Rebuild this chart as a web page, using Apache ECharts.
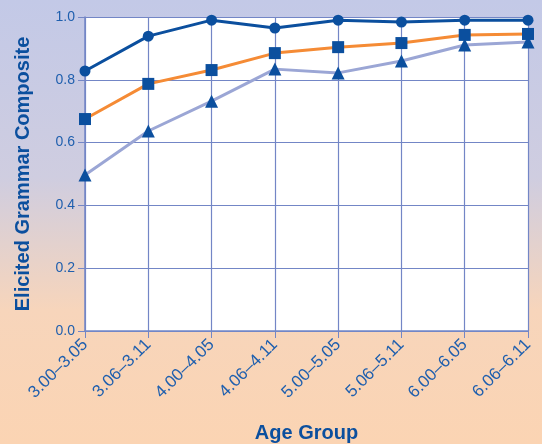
<!DOCTYPE html>
<html><head><meta charset="utf-8">
<script src="https://cdn.jsdelivr.net/npm/echarts@6/dist/echarts.min.js"></script>
<style>html,body{margin:0;padding:0;}#c{width:542px;height:444px;}</style>
</head><body><div id="c"></div>
<script>
var categories = ['3.00\u20133.05','3.06\u20133.11','4.00\u20134.05','4.06\u20134.11','5.00\u20135.05','5.06\u20135.11','6.00\u20136.05','6.06\u20136.11'];
var seriesCircle = [0.828, 0.939, 0.990, 0.965, 0.990, 0.984, 0.990, 0.990];
var seriesSquare = [0.675, 0.787, 0.831, 0.885, 0.904, 0.917, 0.943, 0.946];
var seriesTriangle = [0.497, 0.637, 0.732, 0.834, 0.822, 0.860, 0.911, 0.920];
var yTicks = [0, 0.2, 0.4, 0.6, 0.8, 1.0];

var chart = echarts.init(document.getElementById('c'));
var markerColor = '#0b4f9e';
var labelColor = '#1f5fae';
var gridColor = '#7386c6';
function mk(data, color, symbol, size, z) {
  return {type:'line', data:data, symbol:symbol, symbolSize:size, z:z,
    lineStyle:{color:color, width:3}, itemStyle:{color:markerColor}, showSymbol:true};
}
chart.setOption({
  animation:false,
  backgroundColor:{type:'linear', x:0, y:0, x2:0, y2:1, colorStops:[
    {offset:0, color:'#c3c9e7'}, {offset:0.4, color:'#cfcde0'}, {offset:0.7, color:'#f7d5bb'}, {offset:1, color:'#fbd4b3'}]},
  grid:{left:85, right:14, top:17, bottom:113, show:true, backgroundColor:'#ffffff', borderWidth:0,
    containLabel:false, outerBoundsMode:'none'},
  xAxis:{type:'category', data:categories, boundaryGap:false,
    name:'Age Group', nameLocation:'middle', nameGap:92,
    nameTextStyle:{color:'#0b4f9e', fontSize:20, fontWeight:'bold', fontFamily:'Liberation Sans'},
    axisLine:{lineStyle:{color:gridColor, width:1.5}},
    axisTick:{show:true, alignWithLabel:true, length:7, lineStyle:{color:gridColor}},
    axisLabel:{rotate:45, color:labelColor, fontSize:17, fontFamily:'Liberation Sans', margin:11, interval:0},
    splitLine:{show:true, lineStyle:{color:gridColor, width:1.2}}},
  yAxis:{type:'value', min:0, max:1, interval:0.2,
    name:'Elicited Grammar Composite', nameLocation:'middle', nameGap:52, nameRotate:90,
    nameTextStyle:{color:'#0b4f9e', fontSize:20, fontWeight:'bold', fontFamily:'Liberation Sans'},
    axisLine:{show:true, lineStyle:{color:gridColor, width:1.5}},
    axisTick:{show:true, length:7, lineStyle:{color:gridColor}},
    axisLabel:{color:labelColor, fontSize:14, fontFamily:'Liberation Sans', margin:10,
      formatter:function(v){ return yTicks.indexOf(Math.round(v*10)/10) >= 0 ? v.toFixed(1) : ''; }},
    splitLine:{show:true, lineStyle:{color:gridColor, width:1.2}}},
  series:[
    mk(seriesTriangle, '#9ba6d5', 'triangle', 13, 2),
    mk(seriesSquare, '#f58b35', 'rect', 12, 3),
    mk(seriesCircle, '#0b4f9e', 'circle', 11, 4)
  ]
});
</script></body></html>
